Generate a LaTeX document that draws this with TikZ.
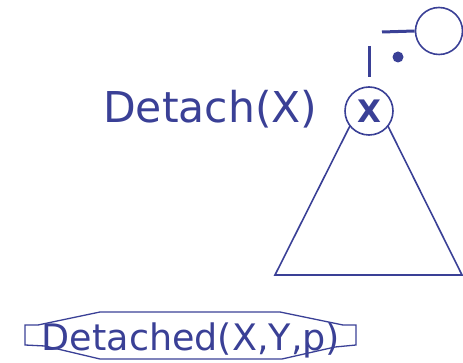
\documentclass[tikz,border=0pt]{standalone}
\usepackage{fontspec}
\setmainfont{DejaVu Sans}
\usepackage{tikz}
\usetikzlibrary{positioning}
\definecolor{ppblue}{RGB}{58,64,150}

\begin{document}
\begin{tikzpicture}[x=1pt,y=-1pt,
  ink/.style={draw=ppblue,line width=1.6pt},
  bar/.style={draw=ppblue,line width=3pt},
  bigtext/.style={text=ppblue,inner sep=0pt,font=\fontsize{42.5}{50}\selectfont},
  rooted/.style={circle,ink,fill=white,minimum size=48pt,inner sep=0pt,
                 text=ppblue,font=\fontsize{31}{36}\selectfont\bfseries},
  label/.style={text=ppblue,inner sep=0pt,font=\fontsize{36.5}{42}\selectfont}
]
\useasboundingbox (0,0) rectangle (463,363);

% subtree hanging from X
\coordinate (apex)  at (369,88);
\coordinate (lleft) at (275,275);
\coordinate (lright)at (462,275);
\draw[ink,line join=miter] (apex) -- (lleft) -- (lright) -- cycle;
\node[rooted] (xnode) at (369,111) {X};

\node[bigtext,anchor=base west] (detach) at (103,123) {Detach(X)};

% the cut link and the removed parent
\node[circle,ink,minimum size=47pt,inner sep=0pt] (parent) at (439,31) {};
\coordinate (cut) at (382,32);
\draw[bar] (cut) -- (parent.west);
\coordinate (stubtop) at (369,46);
\coordinate (stubbot) at (369,77);
\draw[bar] (stubtop) -- (stubbot);
\fill[ppblue] (398,57) circle (5.5pt);

% result message
\node[label,anchor=base] (detached) at (191,350) {Detached(X,Y,p)};
\draw[draw=ppblue,line width=1.3pt]
  (25,325) -- (38,325) -- (100,312) -- (280,312) -- (343,325) -- (356,325)
  -- (356,345) -- (335,347) -- (282,359) -- (100,359) -- (45,346)
  -- (25,345) -- cycle;
\end{tikzpicture}
\end{document}
